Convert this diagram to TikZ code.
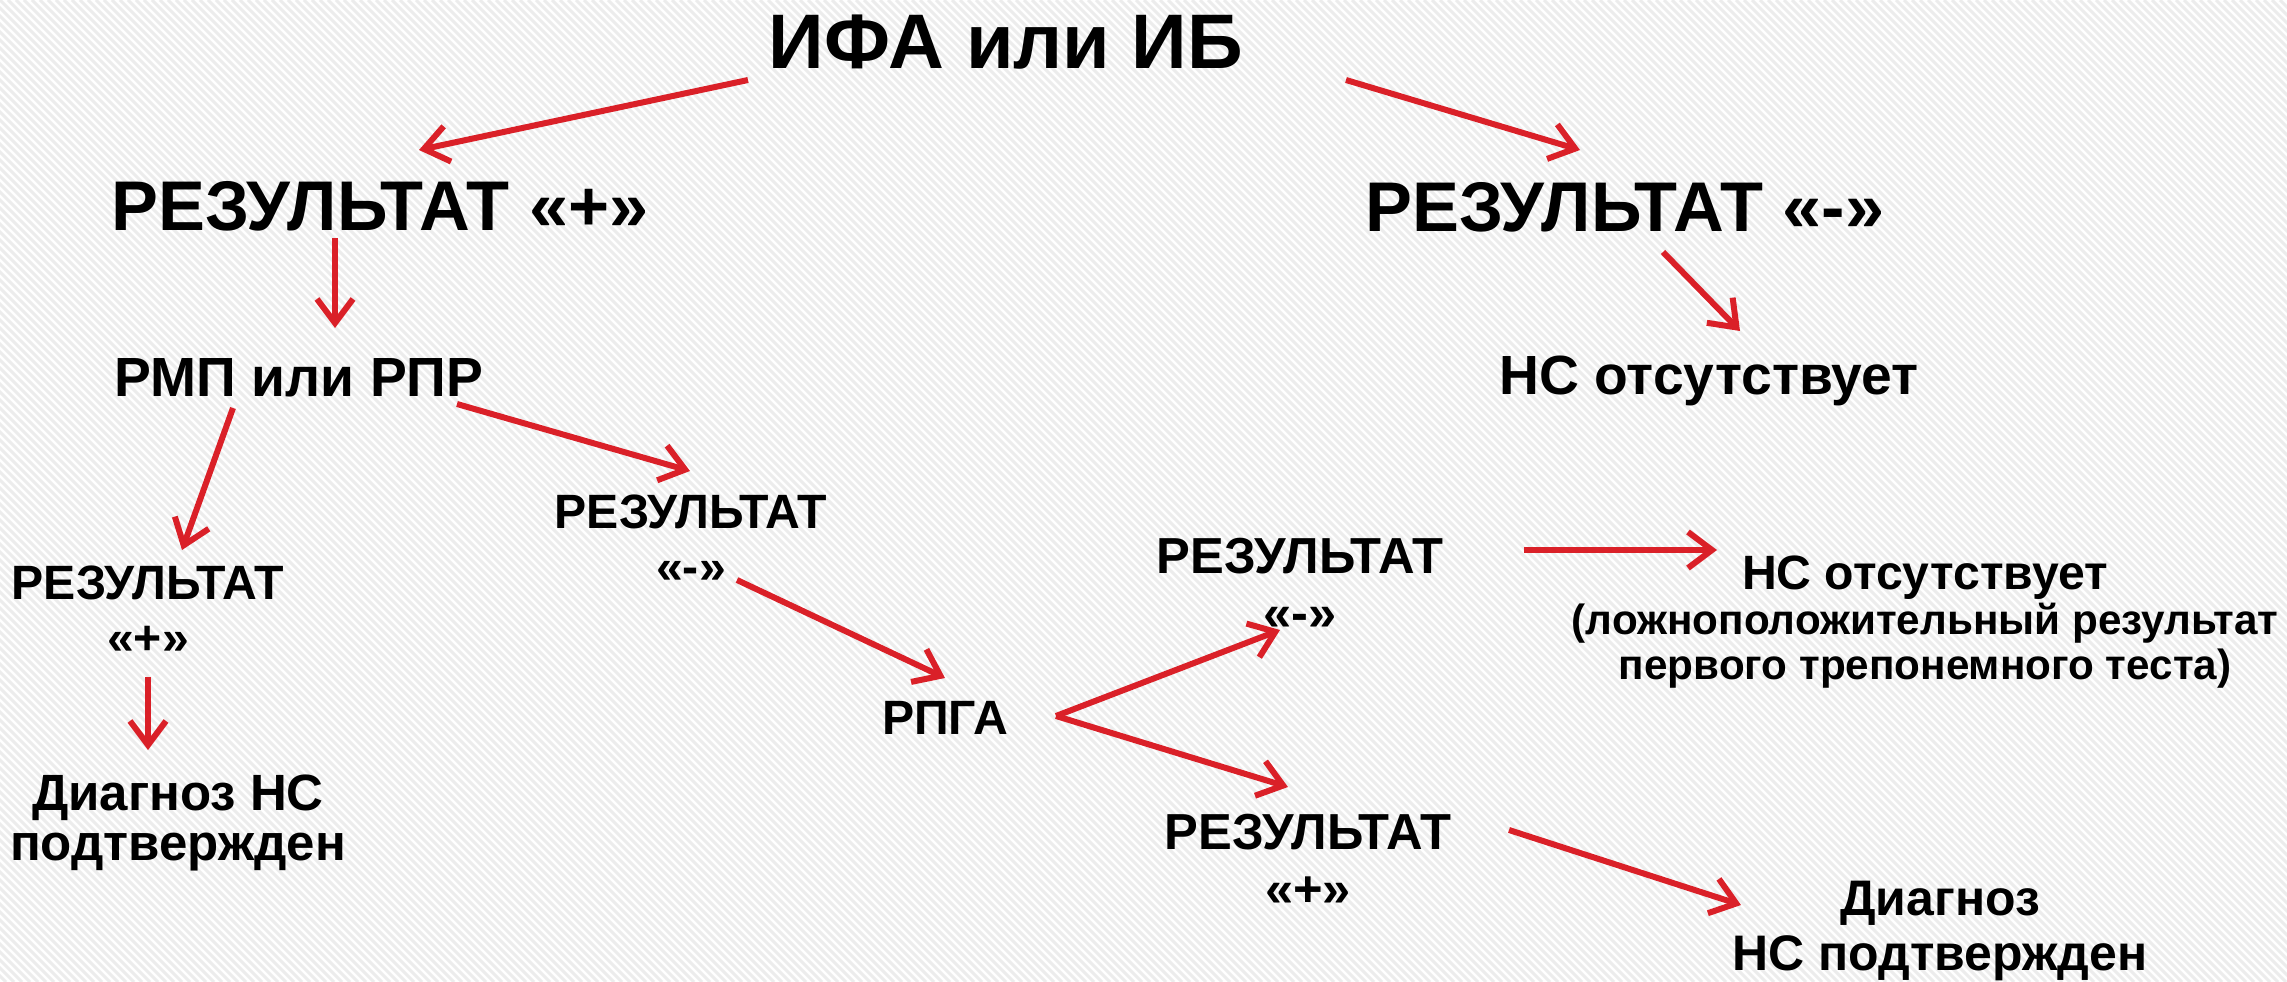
\documentclass[tikz,border=0pt]{standalone}
\usepackage{fontspec}
\setmainfont{Liberation Sans}
\usetikzlibrary{arrows.meta}
\definecolor{arrred}{RGB}{218,32,40}
\definecolor{stripegray}{RGB}{236,236,236}

\begin{document}
\begin{tikzpicture}[x=0.01cm,y=-0.01cm,
  arr/.style={draw=arrred, line width=0.06cm, -{Straight Barb[length=0.24cm,width=0.36cm]}},
  lbl/.style={inner sep=0pt, align=center},
  fXL/.style={lbl, font=\fontsize{22}{26}\selectfont\bfseries},
  fL/.style={lbl, font=\fontsize{20}{23}\selectfont\bfseries},
  fM/.style={lbl, font=\fontsize{15.7}{18}\selectfont\bfseries},
  fS/.style={lbl, font=\fontsize{13.7}{15.8}\selectfont\bfseries},
  fSB/.style={lbl, font=\fontsize{14.4}{16.2}\selectfont\bfseries},
  fXS/.style={lbl, font=\fontsize{12}{12.8}\selectfont\bfseries}]
  \useasboundingbox (0,0) rectangle (2287,982);
  % background stripes
  \fill[white] (0,0) rectangle (2287,982);
  \begin{scope}
    \clip (0,0) rectangle (2287,982);
    \foreach \i in {-1000,-992,...,2290}
      \draw[stripegray, line width=0.03cm] (\i,0) -- ++(982,982);
  \end{scope}
  % nodes
  \node[fXL] (ifa) at (1006,42) {ИФА или ИБ};
  \node[fL] (resP) at (380,206) {РЕЗУЛЬТАТ «+»};
  \node[fL] (resM) at (1625,207) {РЕЗУЛЬТАТ «-»};
  \node[fM] (rmp) at (299,378) {РМП или РПР};
  \node[fM] (nsA) at (1709,381) {НС отсутствует};
  \node[fS] (res2) at (691,539) {РЕЗУЛЬТАТ\\«-»};
  \node[fS] (res3) at (148,610) {РЕЗУЛЬТАТ\\«+»};
  \node[lbl, font=\fontsize{14.5}{14.2}\selectfont\bfseries] (diag1) at (178,823) {Диагноз НС\\подтвержден};
  \node[fS] (rpga) at (945,718) {РПГА};
  \node[fSB] (res4) at (1300,584) {РЕЗУЛЬТАТ\\«-»};
  \node[fXS] (nsB) at (1925,622) {{\fontsize{13.7}{15}\selectfont НС отсутствует}\\(ложноположительный результат\\первого трепонемного теста)};
  \node[fSB] (res5) at (1308,860) {РЕЗУЛЬТАТ\\«+»};
  \node[lbl, font=\fontsize{14.2}{15.6}\selectfont\bfseries] (diag2) at (1940,931) {Диагноз\\НС подтвержден};
  % arrows
  \draw[arr] ([shift={(-258,38)}]ifa.center) -- ([shift={(39,-56)}]resP.center);
  \draw[arr] ([shift={(340,38)}]ifa.center) -- ([shift={(-45,-57)}]resM.center);
  \draw[arr] ([shift={(-45,32)}]resP.center) -- ([shift={(36,-50)}]rmp.center);
  \draw[arr] ([shift={(38,45)}]resM.center) -- ([shift={(31,-50)}]nsA.center);
  \draw[arr] ([shift={(-66,30)}]rmp.center) -- ([shift={(34,-60)}]res3.center);
  \draw[arr] ([shift={(158,26)}]rmp.center) -- ([shift={(-1,-68)}]res2.center);
  \draw[arr] ([shift={(0,67)}]res3.center) -- ([shift={(-30,-73)}]diag1.center);
  \draw[arr] ([shift={(46,41)}]res2.center) -- ([shift={(0,-40)}]rpga.center);
  \draw[arr] ([shift={(111,-2)}]rpga.center) -- ([shift={(-20,46)}]res4.center);
  \draw[arr] ([shift={(111,-2)}]rpga.center) -- ([shift={(-20,-73)}]res5.center);
  \draw[arr] ([shift={(224,-34)}]res4.center) -- ([shift={(-208,-72)}]nsB.center);
  \draw[arr] ([shift={(201,-30)}]res5.center) -- ([shift={(-199,-26)}]diag2.center);
\end{tikzpicture}
\end{document}
